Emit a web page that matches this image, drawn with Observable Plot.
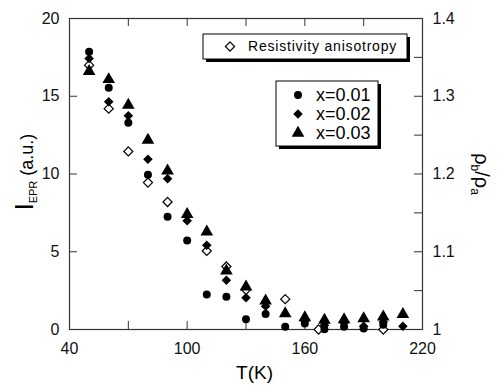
<!DOCTYPE html>
<html>
<head>
<meta charset="utf-8">
<script src="https://cdn.jsdelivr.net/npm/d3@7"></script>
<script src="https://cdn.jsdelivr.net/npm/@observablehq/plot@0.6"></script>
<style>
  html, body { margin: 0; padding: 0; background: #fff; }
  #chart svg { display: block; }
</style>
</head>
<body>
<div id="chart"></div>
<script>
// ---- data ----
const temps = [50, 60, 70, 80, 90, 100, 110, 120, 130, 140, 150, 160, 170, 180, 190, 200, 210];
const epr001 = [17.86, 15.54, 13.3, 9.95, 7.25, 5.72, 2.25, 2.1, 0.66, 1.0, 0.17, 0.38, 0.02, 0.17, 0.06, 0.3, null];
const epr002 = [17.43, 14.64, 13.74, 10.95, 9.7, 6.99, 5.42, 3.17, 2.04, 1.5, null, 0.55, 0.28, 0.42, 0.21, 0.49, 0.21];
const epr003 = [16.6, 16.08, 14.43, 12.18, 10.2, 7.4, 6.28, 3.78, 2.74, 1.85, 1.03, 0.77, 0.6, 0.64, 0.7, 0.81, 0.98];
const rhoTemps = [50, 60, 70, 80, 90, 110, 120, 130, 150, 167, 200];
const rhoRatio = [1.340, 1.284, 1.229, 1.189, 1.164, 1.101, 1.081, 1.051, 1.039, 1.000, 1.000];

const seriesNames = ["x=0.01", "x=0.02", "x=0.03"];
const rhoName = "Resistivity anisotropy";
const xTicks = [40, 100, 160, 220];
const xInnerTicks = [70, 100, 130, 160, 190];
const yTicks = [0, 5, 10, 15, 20];
const yInnerTicks = [5, 10, 15];
const rhoTicks = [1, 1.1, 1.2, 1.3, 1.4];
const rhoTickLabels = ["1", "1.1", "1.2", "1.3", "1.4"];
const rhoInnerTicks = [1.05, 1.1, 1.15, 1.2, 1.25, 1.3, 1.35];
const xLabel = "T(K)";

// ---- layout ----
const W = 501, H = 386, mL = 69, mR = 79, mT = 18, mB = 57;
const frameW = W - mL - mR, frameH = H - mT - mB;
const tickLen = 8;
const FONT = "'Liberation Sans', Arial, Helvetica, sans-serif";

// right axis (rho_b/rho_a, 1..1.4) shares the left scale (0..20)
const rhoToY = r => (r - 1) * 50;

const series = [epr001, epr002, epr003].map((vals, k) =>
  temps.map((T, i) => ({T, v: vals[i], s: seriesNames[k]})).filter(d => d.v != null));
const rhoData = rhoTemps.map((T, i) => ({T, r: rhoRatio[i]}));

const symbols = ["circle", "diamond2", "triangle"];
const radii = [4, 4.3, 4.7];

const plot = Plot.plot({
  width: W, height: H,
  marginLeft: mL, marginRight: mR, marginTop: mT, marginBottom: mB,
  style: {fontFamily: FONT, fontSize: "16px", color: "#111", background: "white"},
  x: {domain: [40, 220]},
  y: {domain: [0, 20]},
  marks: [
    // tick labels
    Plot.axisX(xTicks, {tickSize: 0, tickPadding: 13, label: null, fontSize: 16}),
    Plot.axisY(yTicks, {anchor: "left", tickSize: 0, tickPadding: 10, label: null, fontSize: 16}),
    Plot.axisY(rhoTicks.map(rhoToY), {anchor: "right", tickSize: 0, tickPadding: 10, label: null, fontSize: 16,
      tickFormat: d => rhoTickLabels[rhoTicks.findIndex(r => Math.abs(rhoToY(r) - d) < 1e-6)]}),
    // inward tick marks
    Plot.tickX(xInnerTicks, {x: d => d, insetTop: frameH - tickLen, stroke: "#333"}),
    Plot.tickX(xInnerTicks, {x: d => d, insetBottom: frameH - tickLen, stroke: "#333"}),
    Plot.tickY(yInnerTicks, {y: d => d, insetRight: frameW - tickLen, stroke: "#333"}),
    Plot.tickY(rhoInnerTicks, {y: d => rhoToY(d), insetLeft: frameW - tickLen, stroke: "#333"}),
    Plot.frame({stroke: "#333", strokeWidth: 1.2}),
    // resistivity anisotropy (open diamonds, right axis)
    Plot.dot(rhoData, {x: "T", y: d => rhoToY(d.r), symbol: "diamond2", r: 4.1, fill: "white", stroke: "black", strokeWidth: 1.2}),
    // EPR intensity series
    ...series.map((data, k) => Plot.dot(data, {x: "T", y: "v", symbol: symbols[k], r: radii[k], fill: "black", stroke: "none"}))
  ]
});

const svg = d3.select(plot);
const g = svg.append("g").style("font-family", FONT).attr("fill", "black").attr("text-anchor", "start");

// axis titles
g.append("text").attr("x", (mL + W - mR) / 2 + 9).attr("y", 379)
  .attr("text-anchor", "middle").style("font-size", "19px").text(xLabel);

const yl = g.append("text").attr("transform", "translate(33,172) rotate(-90)")
  .attr("text-anchor", "middle");
yl.append("tspan").style("font-size", "25px").text("I");
yl.append("tspan").style("font-size", "11px").attr("dy", 4).text("EPR");
yl.append("tspan").style("font-size", "18px").attr("dy", -4).text(" (a.u.)");

const rl = g.append("text").attr("transform", "translate(475,174) rotate(90)")
  .attr("text-anchor", "middle");
rl.append("tspan").style("font-size", "20px").text("ρ");
rl.append("tspan").style("font-size", "12px").attr("dy", 4).text("b");
rl.append("tspan").style("font-size", "20px").attr("dy", -4).text("/ρ");
rl.append("tspan").style("font-size", "12px").attr("dy", 4).text("a");

// legend boxes with drop shadow
function box(x, y, w, h) {
  g.append("rect").attr("x", x + 3).attr("y", y + 3).attr("width", w).attr("height", h).attr("fill", "black");
  g.append("rect").attr("x", x).attr("y", y).attr("width", w).attr("height", h)
    .attr("fill", "white").attr("stroke", "black").attr("stroke-width", 1);
}
box(203, 34, 204, 25);
g.append("path").attr("transform", "translate(230,46.5)")
  .attr("d", d3.symbol(d3.symbolDiamond2, Math.PI * 4.1 * 4.1)())
  .attr("fill", "white").attr("stroke", "black").attr("stroke-width", 1.2);
g.append("text").attr("x", 248).attr("y", 46.5).attr("dy", "0.35em").attr("text-anchor", "start")
  .style("font-size", "14px").style("letter-spacing", "0.8px").text(rhoName);

box(276, 81, 102, 65);
const symTypes = [d3.symbolCircle, d3.symbolDiamond2, d3.symbolTriangle];
seriesNames.forEach((name, k) => {
  const yy = 95 + k * 19;
  g.append("path").attr("transform", `translate(298,${yy})`)
    .attr("d", d3.symbol(symTypes[k], Math.PI * radii[k] * radii[k])());
  g.append("text").attr("x", 316).attr("y", yy).attr("dy", "0.35em").attr("text-anchor", "start")
    .style("font-size", "18px").text(name);
});

document.getElementById("chart").appendChild(plot);
</script>
</body>
</html>
